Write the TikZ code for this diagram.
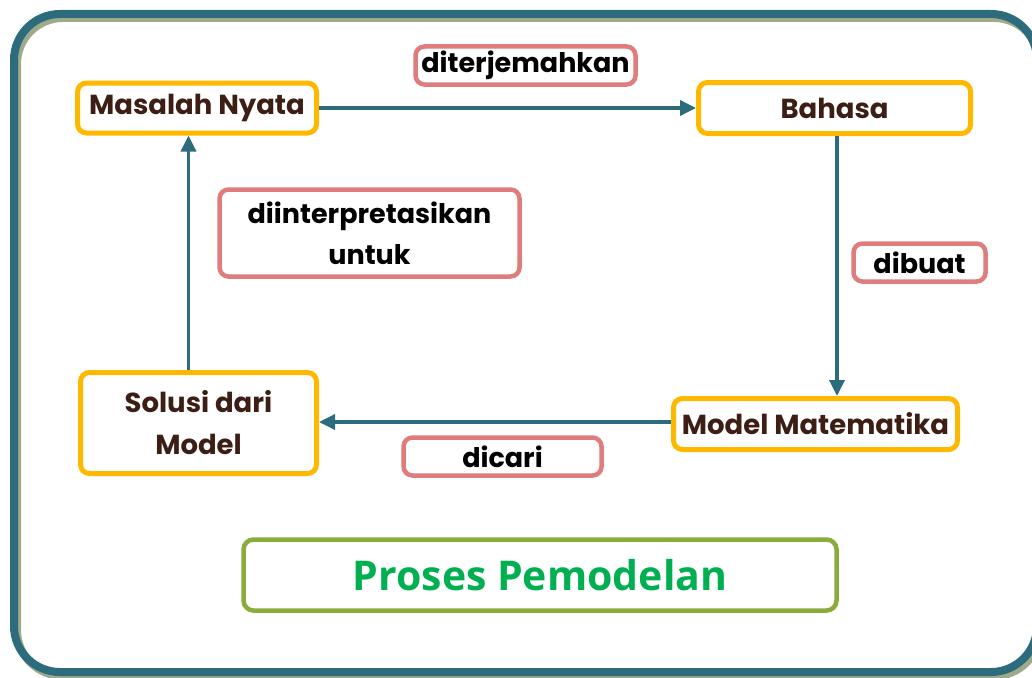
\documentclass[tikz,border=0pt]{standalone}
\usepackage{fontspec}
\setmainfont{Poppins}
\newfontfamily\titlefont{Open Sans}
\usepackage{xcolor}
\usetikzlibrary{arrows.meta}
\definecolor{teal1}{HTML}{2C6C7C}
\definecolor{olive1}{HTML}{A0A98A}
\definecolor{orange1}{HTML}{FFB800}
\definecolor{pink1}{HTML}{E07C7C}
\definecolor{green1}{HTML}{8AAC3A}
\definecolor{green2}{HTML}{00B050}
\definecolor{brown1}{HTML}{3D1E14}

\begin{document}
\begin{tikzpicture}[x=1pt,y=-1pt,
                    box/.style={draw=orange1,line width=5pt,rounded corners=9pt,fill=white,
                                text=brown1,font=\fontsize{27.5}{42}\selectfont\bfseries,align=center,inner sep=0pt},
                    lbl/.style={draw=pink1,line width=4.5pt,rounded corners=9pt,fill=white,
                                text=black,font=\fontsize{27}{41}\selectfont\bfseries,align=center,inner sep=0pt},
                    arr/.style={draw=teal1,line width=3.5pt,-{Triangle[length=16pt,width=15pt]}}]
    \useasboundingbox (0,0) rectangle (1032,677);
    % frame
    \draw[olive1,line width=8pt,rounded corners=46pt] (17,18) rectangle (1040,676);
    \draw[teal1,line width=8pt,rounded corners=46pt] (14,14) rectangle (1037,672);
    % steps
    \node[box,minimum width=239pt,minimum height=50pt] (masalah) at (197,108) {Masalah Nyata};
    \node[box,minimum width=272pt,minimum height=51pt] (bahasa) at (834.5,108) {Bahasa};
    \node[box,minimum width=284pt,minimum height=51pt] (model) at (815.5,424) {Model Matematika};
    \node[box,minimum width=236pt,minimum height=101pt] (solusi) at (198.5,423) {Solusi dari\\Model};
    % labels
    \node[lbl,minimum width=220pt,minimum height=38pt] (terjemah) at (525.5,65.5) {diterjemahkan};
    \node[lbl,minimum width=132pt,minimum height=38pt] (buat) at (919.5,262.5) {dibuat};
    \node[lbl,minimum width=198pt,minimum height=38pt] (cari) at (502.5,456.5) {dicari};
    \node[lbl,minimum width=300pt,minimum height=87pt] (interp) at (369.5,233) {diinterpretasikan\\untuk};
    \node[draw=green1,line width=4.5pt,rounded corners=10pt,minimum width=593pt,minimum height=71pt,
          text=green2,font=\titlefont\fontsize{41}{46}\selectfont\bfseries] (proses) at (540,575) {Proses Pemodelan};
    % arrows
    \draw[arr] (masalah.east) -- (bahasa.west);
    \draw[arr] ([xshift=2.5pt]bahasa.south) -- ([xshift=2.5pt]bahasa.south |- model.north);
    \draw[arr] ([yshift=2pt]model.west) -- ([yshift=2pt]model.west -| solusi.east);
    \draw[arr] ([xshift=-10pt]solusi.north) -- ([xshift=-10pt]solusi.north |- masalah.south);
\end{tikzpicture}
\end{document}
